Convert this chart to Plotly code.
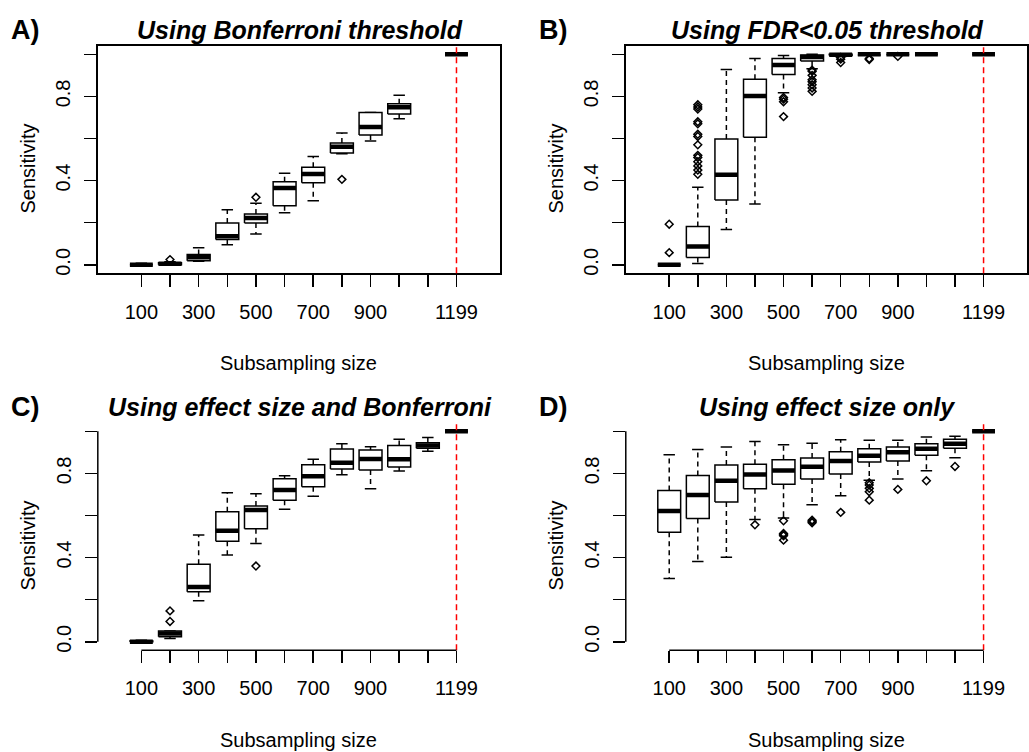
import plotly.graph_objects as go

# ---------------- data ----------------
sizes = [100, 200, 300, 400, 500, 600, 700, 800, 900, 1000, 1100, 1199]
x_tick_labels = ["100", "", "300", "", "500", "", "700", "", "900", "", "", "1199"]
y_tick_vals = [0.0, 0.2, 0.4, 0.6, 0.8, 1.0]
y_tick_labels = ["0.0", "", "0.4", "", "0.8", ""]
full_size = 1199

panel_letters = ["A)", "B)", "C)", "D)"]
panel_titles = ["Using Bonferroni threshold", "Using FDR<0.05 threshold",
                "Using effect size and Bonferroni", "Using effect size only"]
x_title = "Subsampling size"
y_title = "Sensitivity"

# Panel A
A_low = [0.0, 0.0, 0.017, 0.096, 0.147, 0.247, 0.304, 0.528, 0.588, 0.694, None, 1.0]
A_q1 = [0.0, 0.0, 0.020, 0.120, 0.199, 0.281, 0.390, 0.531, 0.617, 0.716, None, 1.0]
A_med = [0.0, 0.005, 0.036, 0.136, 0.223, 0.365, 0.432, 0.561, 0.655, 0.749, None, 1.0]
A_q3 = [0.003, 0.010, 0.049, 0.199, 0.242, 0.395, 0.463, 0.579, 0.724, 0.765, None, 1.0]
A_high = [0.008, 0.015, 0.081, 0.262, 0.292, 0.435, 0.515, 0.626, 0.724, 0.806, None, 1.0]
A_out = [[], [0.025], [], [], [0.321], [], [], [0.406], [], [], [], []]

# Panel B
B_low = [0.0, 0.006, 0.168, 0.289, 0.817, 0.931, 0.990, 0.995, 0.998, 1.0, None, 1.0]
B_q1 = [0.0, 0.035, 0.308, 0.606, 0.904, 0.968, 0.994, 0.997, 0.999, 1.0, None, 1.0]
B_med = [0.0, 0.087, 0.428, 0.802, 0.949, 0.987, 0.998, 1.0, 1.0, 1.0, None, 1.0]
B_q3 = [0.002, 0.182, 0.598, 0.881, 0.980, 0.997, 1.0, 1.0, 1.0, 1.0, None, 1.0]
B_high = [0.004, 0.368, 0.928, 0.980, 0.994, 1.0, 1.0, 1.0, 1.0, 1.0, None, 1.0]
B_out = [[0.058, 0.193],
         [0.43, 0.45, 0.47, 0.49, 0.51, 0.52, 0.57, 0.61, 0.62, 0.67, 0.68, 0.74, 0.75, 0.76],
         [], [], [0.704, 0.775, 0.787, 0.795],
         [0.824, 0.84, 0.855, 0.87, 0.879, 0.90, 0.919, 0.925],
         [0.961, 0.977, 0.985], [0.975, 0.98], [0.99], [], [], []]

# Panel C
C_low = [0.0, 0.016, 0.195, 0.412, 0.467, 0.630, 0.692, 0.794, 0.727, 0.811, 0.905, 1.0]
C_q1 = [0.0, 0.024, 0.238, 0.478, 0.537, 0.673, 0.737, 0.821, 0.816, 0.830, 0.919, 1.0]
C_med = [0.0, 0.040, 0.261, 0.528, 0.626, 0.721, 0.787, 0.851, 0.868, 0.867, 0.933, 1.0]
C_q3 = [0.004, 0.052, 0.369, 0.618, 0.645, 0.775, 0.841, 0.916, 0.911, 0.932, 0.946, 1.0]
C_high = [0.008, 0.052, 0.507, 0.708, 0.703, 0.789, 0.867, 0.941, 0.927, 0.962, 0.970, 1.0]
C_out = [[], [0.097, 0.147], [], [], [0.36], [], [], [], [], [], [], []]

# Panel D
D_low = [0.301, 0.382, 0.402, 0.581, 0.588, 0.651, 0.694, 0.767, 0.773, 0.813, 0.874, 1.0]
D_q1 = [0.521, 0.586, 0.664, 0.727, 0.748, 0.773, 0.797, 0.854, 0.859, 0.886, 0.920, 1.0]
D_med = [0.621, 0.697, 0.765, 0.795, 0.814, 0.832, 0.859, 0.884, 0.900, 0.917, 0.941, 1.0]
D_q3 = [0.719, 0.790, 0.840, 0.843, 0.865, 0.873, 0.903, 0.917, 0.925, 0.941, 0.962, 1.0]
D_high = [0.889, 0.914, 0.925, 0.952, 0.936, 0.943, 0.960, 0.958, 0.957, 0.973, 0.976, 1.0]
D_out = [[], [], [], [0.556], [0.575, 0.504, 0.515, 0.483, 0.51], [0.578, 0.566, 0.572],
         [0.615], [0.756, 0.745, 0.729, 0.713, 0.673], [0.724], [0.765], [0.833], []]

panels = [
    (A_low, A_q1, A_med, A_q3, A_high, A_out),
    (B_low, B_q1, B_med, B_q3, B_high, B_out),
    (C_low, C_q1, C_med, C_q3, C_high, C_out),
    (D_low, D_q1, D_med, D_q3, D_high, D_out),
]

# ---------------- layout geometry (pixels of a 1029x752 page) ----------------
W, H = 1029, 752
FONT = "Liberation Sans, Arial, Helvetica, sans-serif"
px_x = lambda v: v / W
px_y = lambda v: 1 - v / H

x_domains = [(98, 501), (627, 1029), (98, 501), (627, 1029)]
y_domains = [(46, 274), (46, 274), (424, 652), (424, 652)]
boxed = [True, True, False, False]

positions = list(range(1, len(sizes) + 1))
full_pos = positions[sizes.index(full_size)]
BOX_HALF = 0.4
STAPLE_HALF = 0.2

fig = go.Figure()

for i, (low, q1, med, q3, high, outs) in enumerate(panels):
    sfx = "" if i == 0 else str(i + 1)
    xa, ya = "x" + sfx, "y" + sfx

    bx, by, mx, my, wx, wy, sx, sy, ox, oy = [], [], [], [], [], [], [], [], [], []
    for p, lo, a, m, b, hi, out in zip(positions, low, q1, med, q3, high, outs):
        for v in out:
            ox.append(p)
            oy.append(v)
        if m is None:
            continue
        bx += [p - BOX_HALF, p + BOX_HALF, p + BOX_HALF, p - BOX_HALF, p - BOX_HALF, None]
        by += [a, a, b, b, a, None]
        mx += [p - BOX_HALF, p + BOX_HALF, None]
        my += [m, m, None]
        wx += [p, p, None, p, p, None]
        wy += [b, hi, None, a, lo, None]
        sx += [p - STAPLE_HALF, p + STAPLE_HALF, None, p - STAPLE_HALF, p + STAPLE_HALF, None]
        sy += [hi, hi, None, lo, lo, None]

    common = dict(xaxis=xa, yaxis=ya, showlegend=False, hoverinfo="skip", cliponaxis=False)
    fig.add_trace(go.Scatter(x=wx, y=wy, mode="lines",
                             line=dict(color="black", width=1.5, dash="5px,4px"), **common))
    fig.add_trace(go.Scatter(x=sx, y=sy, mode="lines",
                             line=dict(color="black", width=1.5), **common))
    fig.add_trace(go.Scatter(x=bx, y=by, mode="lines", fill="toself", fillcolor="white",
                             line=dict(color="black", width=1.5), **common))
    fig.add_trace(go.Scatter(x=mx, y=my, mode="lines",
                             line=dict(color="black", width=4.5), **common))
    fig.add_trace(go.Scatter(x=ox, y=oy, mode="markers",
                             marker=dict(symbol="diamond-open", size=6, color="black",
                                         line=dict(width=1.5, color="black")), **common))

    # red dashed line at the full sample size
    fig.add_shape(type="line", xref=xa, yref=ya + " domain", x0=full_pos, x1=full_pos,
                  y0=0, y1=1, line=dict(color="red", width=1.5, dash="6px,4px"))

    xd, yd = x_domains[i], y_domains[i]
    axis_font = dict(family=FONT, size=20, color="black")
    fig.update_layout(**{
        ("xaxis" + sfx): dict(
            domain=[px_x(xd[0]), px_x(xd[1])], anchor=ya, range=[-0.52, 13.52],
            tickmode="array", tickvals=positions, ticktext=x_tick_labels,
            ticks="outside", ticklen=12, tickwidth=1.5, tickcolor="black",
            showgrid=False, zeroline=False, showline=boxed[i], mirror=boxed[i],
            linecolor="black", linewidth=1.5, tickfont=axis_font, ticklabelstandoff=8,
            fixedrange=True),
        ("yaxis" + sfx): dict(
            domain=[px_y(yd[1]), px_y(yd[0])], anchor=xa, range=[-0.04, 1.04],
            tickmode="array", tickvals=y_tick_vals, ticktext=y_tick_labels, tickangle=-90,
            ticks="outside", ticklen=12, tickwidth=1.5, tickcolor="black",
            showgrid=False, zeroline=False, showline=boxed[i], mirror=boxed[i],
            linecolor="black", linewidth=1.5, tickfont=axis_font, ticklabelstandoff=6,
            fixedrange=True),
    })

    if not boxed[i]:
        # R-style axis lines spanning only the tick range
        fig.add_shape(type="line", xref=xa + " domain", yref=ya, x0=0, x1=0,
                      y0=min(y_tick_vals), y1=max(y_tick_vals),
                      line=dict(color="black", width=1.5))
        fig.add_shape(type="line", xref=xa, yref=ya + " domain",
                      x0=positions[0], x1=positions[-1], y0=0, y1=0,
                      line=dict(color="black", width=1.5))

    # panel letter, title, axis titles
    cx = (xd[0] + xd[1]) / 2
    top = yd[0]
    fig.add_annotation(text="<b>" + panel_letters[i] + "</b>", xref="paper", yref="paper",
                       x=px_x(xd[0] - 89), y=px_y(top - 16), xanchor="left", yanchor="middle",
                       showarrow=False, font=dict(family=FONT, size=27, color="black"))
    fig.add_annotation(text="<b><i>" + panel_titles[i] + "</i></b>", xref="paper", yref="paper",
                       x=px_x(cx + 1), y=px_y(top - 16), xanchor="center", yanchor="middle",
                       showarrow=False, font=dict(family=FONT, size=25, color="black"))
    fig.add_annotation(text=x_title, xref="paper", yref="paper",
                       x=px_x(cx), y=px_y(yd[1] + 90), xanchor="center", yanchor="middle",
                       showarrow=False, font=dict(family=FONT, size=20, color="black"))
    fig.add_annotation(text=y_title, xref="paper", yref="paper", textangle=-90,
                       x=px_x(xd[0] - 70), y=px_y((yd[0] + yd[1]) / 2 + 9),
                       xanchor="center", yanchor="middle",
                       showarrow=False, font=dict(family=FONT, size=20, color="black"))

fig.update_layout(width=W, height=H, margin=dict(l=0, r=0, t=0, b=0),
                  paper_bgcolor="white", plot_bgcolor="white",
                  font=dict(family=FONT, color="black"))

# remove the browser's default page margin so the figure fills the window exactly
fig.write_html("out.html",
               config={"displayModeBar": False, "staticPlot": True},
               post_script="document.body.style.margin='0';"
                           "document.body.style.overflow='hidden';")
